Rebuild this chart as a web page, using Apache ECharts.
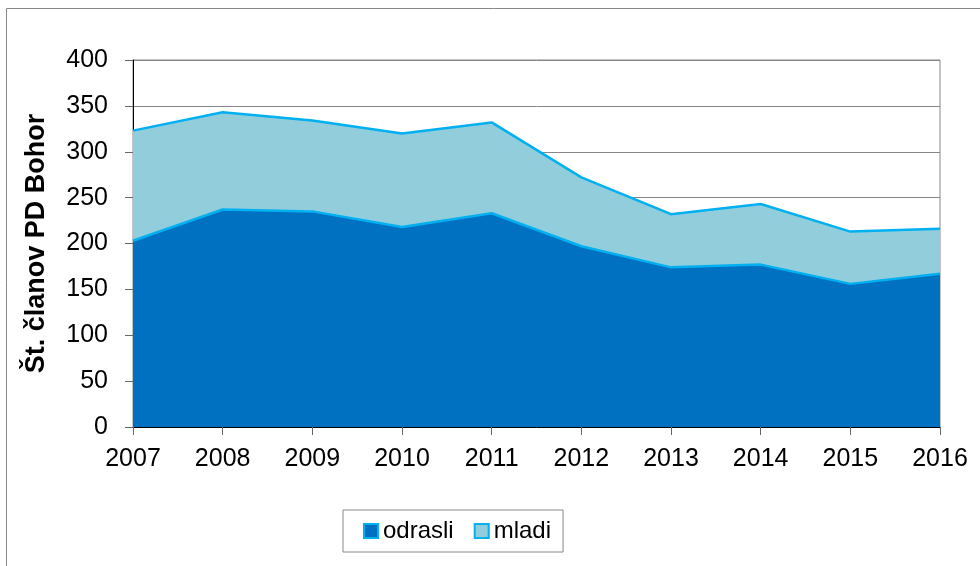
<!DOCTYPE html>
<html>
<head>
    <meta charset="utf-8">
    <title></title>
    <style type="text/css">
        body { margin: 0; background: #fff; }
    </style>
</head>
<body>
<div id="main" style="width: 980px;height:566px;"></div>

<script type="text/javascript" src="https://cdn.jsdelivr.net/npm/echarts@6/dist/echarts.min.js"></script>
<script type="text/javascript">
    var years = ['2007', '2008', '2009', '2010', '2011', '2012', '2013', '2014', '2015', '2016'];
    var odrasli = [203, 237, 235, 218, 233, 197, 174, 177, 156, 167];
    var mladi = [120, 106, 99, 102, 99, 75, 58, 66, 57, 49];

    var font = 'Arial, "Liberation Sans", sans-serif';
    var myChart = echarts.init(document.getElementById('main'));

    myChart.setOption({
        animation: false,
        textStyle: { fontFamily: font },
        graphic: [{
            type: 'rect',
            shape: { x: 6.5, y: 8.5, width: 1000, height: 600 },
            style: { fill: 'none', stroke: '#888', lineWidth: 1 },
            silent: true
        }],
        grid: {
            left: 133, right: 40, top: 60, bottom: 139,
            show: true, borderColor: '#888', borderWidth: 1
        },
        legend: {
            left: 343, top: 510,
            padding: [9, 12, 9, 20],
            borderColor: '#888', borderWidth: 1,
            itemWidth: 14, itemHeight: 14, itemGap: 20,
            textStyle: { fontSize: 24, color: '#000', fontFamily: font },
            data: [
                { name: 'odrasli', icon: 'rect', itemStyle: { color: '#0070C0', borderColor: '#00B0F0', borderWidth: 2 } },
                { name: 'mladi', icon: 'rect', itemStyle: { color: '#92CDDC', borderColor: '#00B0F0', borderWidth: 2 } }
            ]
        },
        xAxis: {
            type: 'category',
            data: years,
            boundaryGap: false,
            axisLine: { lineStyle: { color: '#000', width: 1 } },
            axisTick: { show: true, length: 8, lineStyle: { color: '#666' } },
            axisLabel: { fontSize: 25, color: '#000', margin: 20 },
            splitLine: { show: false }
        },
        yAxis: {
            type: 'value',
            min: 0, max: 400, interval: 50,
            name: 'Št. članov PD Bohor',
            nameLocation: 'middle',
            nameGap: 83,
            nameTextStyle: { fontSize: 27, fontWeight: 'bold', color: '#000' },
            axisLine: { show: true, lineStyle: { color: '#000', width: 1 } },
            axisTick: { show: true, length: 8, lineStyle: { color: '#666' } },
            axisLabel: { fontSize: 25, color: '#000', margin: 25 },
            splitLine: { lineStyle: { color: '#888', width: 1 } }
        },
        series: [{
            name: 'odrasli',
            type: 'line',
            stack: 'total',
            symbol: 'none',
            lineStyle: { color: '#00B0F0', width: 2.5 },
            itemStyle: { color: '#0070C0' },
            areaStyle: { color: '#0070C0', opacity: 1 },
            data: odrasli
        }, {
            name: 'mladi',
            type: 'line',
            stack: 'total',
            symbol: 'none',
            lineStyle: { color: '#00B0F0', width: 2.5 },
            itemStyle: { color: '#92CDDC' },
            areaStyle: { color: '#92CDDC', opacity: 1 },
            data: mladi
        }]
    });
</script>

</body>
</html>
